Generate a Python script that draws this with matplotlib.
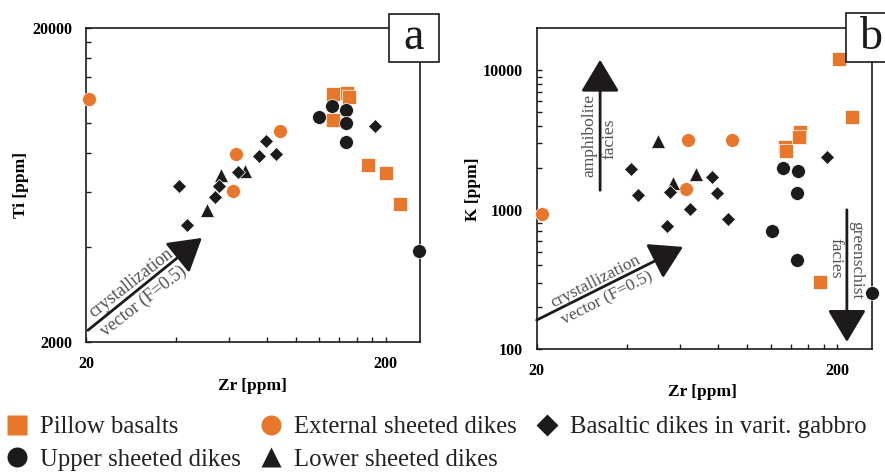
import matplotlib
matplotlib.use('Agg')
import matplotlib.pyplot as plt
from matplotlib.lines import Line2D
from matplotlib.patches import Rectangle
from matplotlib.ticker import FixedLocator, NullFormatter

plt.rcParams['font.family'] = ['Liberation Serif', 'DejaVu Serif']

W, H = 885, 473
ORANGE = '#e8762b'
BLACK = '#1c1a1b'
GREY = '#505050'

# --- panel a: Zr vs Ti ---
pillow_zr_a = [133, 148, 151, 133, 175, 201, 223]
pillow_ti = [12300, 12450, 12100, 10150, 7300, 6900, 5500]
ext_zr_a = [20.5, 88.7, 63.2, 61.9]
ext_ti = [11900, 9400, 7950, 6050]
upper_zr_a = [120, 132, 147, 147, 147, 258]
upper_ti = [10450, 11250, 10950, 9950, 8650, 3900]
lower_zr_a = [50.5, 56.4, 67.8]
lower_ti = [5250, 6800, 7000]
gabbro_zr_a = [40.9, 43.3, 53.8, 55.6, 64.1, 75.7, 79.4, 86, 184]
gabbro_ti = [6300, 4700, 5800, 6300, 6950, 7850, 8750, 7950, 9750]

# --- panel b: Zr vs K ---
pillow_zr_b = [202, 224, 150, 149, 134, 135, 175]
pillow_k = [12100, 4600, 3600, 3350, 2800, 2650, 305]
ext_zr_b = [20.8, 63.6, 89.1, 62.6]
ext_k = [935, 3150, 3180, 1410]
upper_zr_b = [132, 148, 147, 121, 147, 260]
upper_k = [1990, 1900, 1320, 705, 437, 252]
lower_zr_b = [50.8, 57, 67.6]
lower_k = [3100, 1550, 1810]
gabbro_zr_b = [41.1, 43.6, 54.1, 55.5, 64.7, 76.4, 79.8, 86.8, 184]
gabbro_k = [1970, 1270, 770, 1350, 1015, 1715, 1315, 860, 2375]

legend_labels = ['Pillow basalts', 'Upper sheeted dikes', 'External sheeted dikes',
                 'Lower sheeted dikes', 'Basaltic dikes in varit. gabbro']

zr_minor = [40, 60, 80, 100, 120, 140, 160, 180]
ti_minor = [4000, 6000, 8000, 10000, 12000, 14000, 16000, 18000]
k_minor = [m * d for d in (100, 1000) for m in range(2, 10)]


def px_box(l, t, r, b):
    return [l / W, 1 - b / H, (r - l) / W, (b - t) / H]


def fx(x, y):
    return x / W, 1 - y / H


def draw_group(ax, x, y, marker, color, ms):
    ax.plot(x, y, ls='none', marker=marker, ms=ms, mfc=color, mec='white',
            mew=0.5, clip_on=False, zorder=3)


def style_axes(ax, ylim, yticks, yminor):
    ax.set_xscale('log')
    ax.set_yscale('log')
    ax.set_xlim(20, 260)
    ax.set_ylim(*ylim)
    ax.set_xticks([20, 200], ['20', '200'], fontsize=11.5, fontweight='bold')
    ax.set_yticks(yticks, [str(t) for t in yticks], fontsize=11.5, fontweight='bold')
    ax.xaxis.set_minor_locator(FixedLocator(zr_minor))
    ax.yaxis.set_minor_locator(FixedLocator(yminor))
    ax.xaxis.set_minor_formatter(NullFormatter())
    ax.yaxis.set_minor_formatter(NullFormatter())
    ax.tick_params(which='both', direction='in', top=False, right=False,
                   length=3.5, width=1.0, color=BLACK, pad=10)
    for s in ax.spines.values():
        s.set_linewidth(1.2)
        s.set_color(BLACK)


fig = plt.figure(figsize=(W / 100, H / 100), dpi=100)
ax_a = fig.add_axes(px_box(86, 28, 420, 342))
ax_b = fig.add_axes(px_box(536.7, 28.3, 871.7, 349.3))

for ax, pz, pv, ez, ev, tz, tv, gz, gv, uz, uv in [
        (ax_a, pillow_zr_a, pillow_ti, ext_zr_a, ext_ti, lower_zr_a, lower_ti,
         gabbro_zr_a, gabbro_ti, upper_zr_a, upper_ti),
        (ax_b, pillow_zr_b, pillow_k, ext_zr_b, ext_k, lower_zr_b, lower_k,
         gabbro_zr_b, gabbro_k, upper_zr_b, upper_k)]:
    draw_group(ax, pz, pv, 's', ORANGE, 9.5)
    draw_group(ax, ez, ev, 'o', ORANGE, 10)
    draw_group(ax, tz, tv, '^', BLACK, 9.5)
    draw_group(ax, gz, gv, 'D', BLACK, 7.6)
    draw_group(ax, uz, uv, 'o', BLACK, 10)

style_axes(ax_a, (2000, 20000), [2000, 20000], ti_minor)
style_axes(ax_b, (100, 20000), [100, 1000, 10000], k_minor)

lab = dict(fontsize=12.5, fontweight='bold')
ax_a.set_xlabel('Zr [ppm]', **lab)
ax_a.set_ylabel('Ti [ppm]', **lab)
ax_b.set_xlabel('Zr [ppm]', **lab)
ax_b.set_ylabel('K [ppm]', **lab)
ax_a.xaxis.set_label_coords(0.497, -0.116)
ax_b.xaxis.set_label_coords(0.496, -0.107)
ax_a.yaxis.set_label_coords(-0.17, 0.5)
ax_b.yaxis.set_label_coords(-0.166, 0.5)

# arrows
head = dict(arrowstyle='-|>,head_length=2.0,head_width=1.2', mutation_scale=10,
            lw=2.0, color=BLACK, shrinkA=0, shrinkB=0)
ax_a.annotate('', xy=(48.7, 4290), xytext=(20.3, 2180), arrowprops=head, annotation_clip=False)
ax_b.annotate('', xy=(61.3, 542), xytext=(20, 162), arrowprops=head, annotation_clip=False)
ax_b.annotate('', xy=(32.5, 11900), xytext=(32.5, 1380), arrowprops=head, annotation_clip=False)
ax_b.annotate('', xy=(215, 113), xytext=(215, 1000), arrowprops=head, annotation_clip=False)

note = dict(color=GREY, ha='center', va='center', rotation_mode='anchor')
# (text, x px, y px, rotation, size)
notes = [
    ('crystallization', 131, 283, 38, 13), ('vector (F=0.5)', 144, 301, 38, 13),
    ('crystallization', 596, 281, 27, 12.5), ('vector (F=0.5)', 607, 298, 27, 12.5),
    ('amphibolite', 589, 135, 90, 12.5), ('facies', 609, 139, 90, 12.5),
    ('greenschist', 856, 260, 270, 12.5), ('facies', 835, 258, 270, 12.5),
]
for txt, x, y, rot, size in notes:
    fig.text(*fx(x, y), txt, rotation=rot, fontsize=size, **note)

# panel letters
for l, t, r, b, letter, cx in [(389, 14, 439, 62, 'a', 414), (846, 13, 900, 62, 'b', 871)]:
    fig.patches.append(Rectangle(fx(l, b), (r - l) / W, (b - t) / H, transform=fig.transFigure,
                                 facecolor='white', edgecolor=BLACK, lw=1.2, zorder=5))
    fig.text(*fx(cx, 38), letter, fontsize=33, ha='center', va='center', color=BLACK, zorder=6)

handles = [
    Line2D([], [], ls='none', marker='s', ms=14.4, mfc=ORANGE, mec='none'),
    Line2D([], [], ls='none', marker='o', ms=14.4, mfc=BLACK, mec='none'),
    Line2D([], [], ls='none', marker='o', ms=14.4, mfc=ORANGE, mec='none'),
    Line2D([], [], ls='none', marker='^', ms=14.4, mfc=BLACK, mec='none'),
    Line2D([], [], ls='none', marker='D', ms=11, mfc=BLACK, mec='none'),
]
fig.legend(handles, legend_labels, loc='upper left', bbox_to_anchor=fx(7, 416), ncol=3,
           frameon=False, fontsize=17.8, handlelength=0.82, handletextpad=0.52,
           columnspacing=0.8, labelspacing=0.42, borderpad=0, borderaxespad=0,
           labelcolor='#222222')

fig.savefig('out.png', dpi=100)
